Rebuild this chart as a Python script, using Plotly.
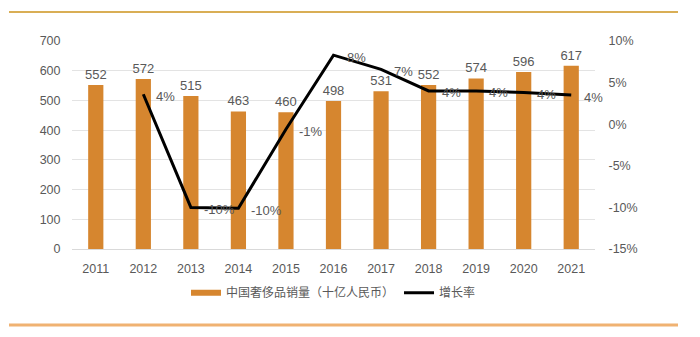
import plotly.graph_objects as go

years = ["2011", "2012", "2013", "2014", "2015", "2016", "2017", "2018", "2019", "2020", "2021"]
sales = [552, 572, 515, 463, 460, 498, 531, 552, 574, 596, 617]
growth_years = ["2012", "2013", "2014", "2015", "2016", "2017", "2018", "2019", "2020", "2021"]
growth = [3.6, -10.0, -10.1, -0.6, 8.3, 6.6, 4.0, 4.0, 3.8, 3.5]
left_ticks = [0, 100, 200, 300, 400, 500, 600, 700]
right_ticks = [-15, -10, -5, 0, 5, 10]

BAR = "#D6862F"
TXT = "#595959"
FONT = "Liberation Sans, Arial, sans-serif"
CJK = "Noto Sans CJK SC"
SALES_NAME = "中国奢侈品销量（十亿人民币）"

fig = go.Figure()
fig.add_trace(go.Bar(
    x=years, y=sales, name=SALES_NAME, showlegend=False,
    marker=dict(color=BAR, line=dict(width=0)),
    width=0.32,
    text=[str(v) for v in sales], textposition="outside",
    constraintext="none",
    textfont=dict(size=13, color=TXT, family=FONT),
    cliponaxis=False,
))
# legend key for the bars drawn as a thick stroke (point kept below the axis range)
fig.add_trace(go.Scatter(
    x=[years[0]], y=[-1000], name=SALES_NAME, mode="lines",
    line=dict(color=BAR, width=6), hoverinfo="skip",
))
fig.add_trace(go.Scatter(
    x=growth_years, y=growth, name="增长率", yaxis="y2",
    mode="lines",
    line=dict(color="#000000", width=3),
    cliponaxis=False,
))

# growth-rate labels sit just right of each point (category index positions)
annotations = [
    dict(x=years.index(yr), y=g, xref="x", yref="y2", text=f"{g:.0f}%",
         showarrow=False, xanchor="left", yanchor="middle", xshift=11, yshift=-2,
         font=dict(size=13, color=TXT, family=FONT))
    for yr, g in zip(growth_years, growth)
]

fig.update_layout(
    width=700, height=337,
    margin=dict(l=72, r=105, t=41, b=88),
    paper_bgcolor="white", plot_bgcolor="white",
    font=dict(family=FONT, color=TXT, size=12),
    xaxis=dict(
        type="category", categoryorder="array", categoryarray=years,
        range=[-0.5, len(years) - 0.5],
        showgrid=False, showline=False,
        ticks="outside", ticklen=8, tickcolor="rgba(0,0,0,0)",
        tickfont=dict(size=12.5, color=TXT),
    ),
    yaxis=dict(
        range=[0, 700], tickvals=left_ticks, showgrid=True,
        gridcolor="#E3E3E3", gridwidth=1, zeroline=True, zerolinecolor="#D9D9D9",
        zerolinewidth=1, showline=False,
        ticks="outside", ticklen=8, tickcolor="rgba(0,0,0,0)",
        tickfont=dict(size=12.5, color=TXT), automargin=False,
    ),
    yaxis2=dict(
        range=[-15, 10], tickvals=right_ticks,
        ticktext=[f"{v}%" for v in right_ticks],
        overlaying="y", side="right", showgrid=False, zeroline=False,
        showline=False, ticks="outside", ticklen=10, tickcolor="rgba(0,0,0,0)",
        tickfont=dict(size=12.5, color=TXT), automargin=False,
    ),
    showlegend=True,
    legend=dict(
        orientation="h", x=0.5, xanchor="center", y=-0.21, yanchor="middle",
        font=dict(family=CJK, size=12, color=TXT),
        tracegroupgap=0,
    ),
    annotations=annotations,
    shapes=[
        dict(type="line", xref="paper", yref="paper",
             x0=(9 - 72) / 523, x1=(678 - 72) / 523,
             y0=(249 - 12) / 208, y1=(249 - 12) / 208,
             line=dict(color="#D9AE55", width=2)),
        dict(type="line", xref="paper", yref="paper",
             x0=(9 - 72) / 523, x1=(678 - 72) / 523,
             y0=(249 - 325) / 208, y1=(249 - 325) / 208,
             line=dict(color="#F0B272", width=3)),
    ],
)

fig.write_html("out.html")
